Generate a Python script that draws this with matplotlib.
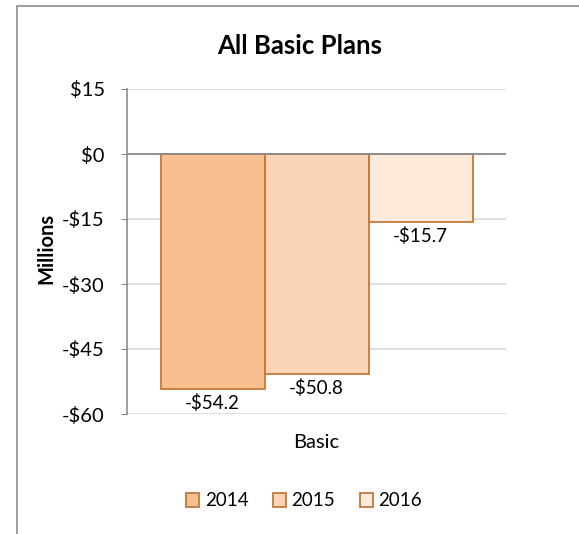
import matplotlib.pyplot as plt
from matplotlib.patches import Rectangle

plt.rcParams['font.family'] = ['Lato', 'DejaVu Sans']

years = ['2014', '2015', '2016']
values = [-54.2, -50.8, -15.7]
labels = ['-$54.2', '-$50.8', '-$15.7']
fills = ['#F8C08F', '#FBD5B5', '#FDEADB']
edge = '#C5773A'
yticks = [15, 0, -15, -30, -45, -60]
ytick_labels = ['$15', '$0', '-$15', '-$30', '-$45', '-$60']

W, H = 579, 534
fig = plt.figure(figsize=(W / 100, H / 100), dpi=100)

# chart frame (left and top edges visible)
fig.patches.append(Rectangle((17 / W, -0.1), 1.2, 1 - 6 / H + 0.1,
                             transform=fig.transFigure, fill=False,
                             edgecolor='#8C8C8C', linewidth=1.2))

ax = fig.add_axes([127 / W, 1 - 414 / H, (506 - 127) / W, (414 - 89) / H])

bw = 104 / 379
offsets = [-bw, 0, bw]
for off, v, f, yr, lab in zip(offsets, values, fills, years, labels):
    ax.bar(off, v, width=bw, color=f, edgecolor=edge, linewidth=1.3, label=yr, zorder=3)
    ax.text(off, v - 1.1, lab, ha='center', va='top', fontsize=13.5)

ax.set_xlim(-0.5, 0.5)
ax.set_ylim(-60, 15)
ax.set_yticks(yticks)
ax.set_yticklabels(ytick_labels, fontsize=14.5)
ax.set_xticks([])
ax.yaxis.grid(True, color='#D9D9D9', linewidth=1.2, zorder=0)
ax.axhline(0, color='#8C8C8C', linewidth=1.3, zorder=4)
for s in ['top', 'right', 'bottom']:
    ax.spines[s].set_visible(False)
ax.spines['left'].set_color('#8C8C8C')
ax.spines['left'].set_linewidth(1.2)
ax.tick_params(axis='y', length=4, color='#8C8C8C', pad=12)

fig.text(300 / W, 1 - 46 / H, 'All Basic Plans', ha='center', va='center',
         fontsize=18.5, fontweight='bold')
fig.text(46 / W, 1 - 248 / H, 'Millions', ha='center', va='center',
         rotation=90, fontsize=14.5, fontweight='bold')
fig.text(316 / W, 1 - 443 / H, 'Basic', ha='center', va='center', fontsize=14.5)

fig.legend(loc='center', bbox_to_anchor=(304 / W, 1 - 501 / H), ncol=3,
           frameon=False, fontsize=13.5, handlelength=0.7, handleheight=0.7,
           handletextpad=0.3, columnspacing=1.3)

fig.savefig('out.png', dpi=100)
